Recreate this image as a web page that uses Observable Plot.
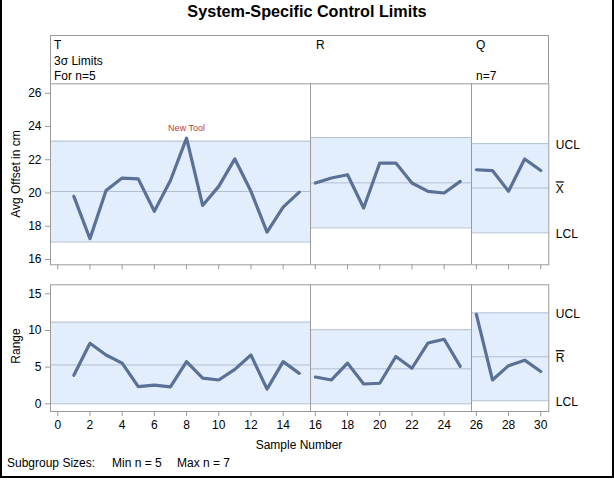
<!DOCTYPE html>
<html><head><meta charset="utf-8">
<script src="https://cdn.jsdelivr.net/npm/d3@7"></script>
<script src="https://cdn.jsdelivr.net/npm/@observablehq/plot@0.6"></script>
<style>
body{margin:0;background:#fff;font-family:"Liberation Sans",Arial,Helvetica,sans-serif;color:#000}
#wrap{position:relative;width:614px;height:480px;overflow:hidden;background:#fff}
.abs{position:absolute;white-space:nowrap;font-size:12px;line-height:14px}
#border{position:absolute;left:0;top:-3px;width:610px;height:479px;border:2px solid #000;border-top:none}
#title{position:absolute;left:0;width:614px;top:2px;text-align:center;font-weight:bold;font-size:16.2px}
#hdr{position:absolute;left:50px;top:35px;width:497px;height:47px;border:1px solid #9a9a9a;border-bottom:none}
.rot{position:absolute;font-size:12px;white-space:nowrap;transform:translate(-50%,-50%) rotate(-90deg)}
svg{position:absolute;left:0}
</style></head>
<body><div id="wrap">
<div id="title">System-Specific Control Limits</div>
<div id="hdr"></div>
<div id="border"></div>
</div>
<script>
// ---- data ----
const sampleNumber = [1,2,3,4,5,6,7,8,9,10,11,12,13,14,15,16,17,18,19,20,21,22,23,24,25,26,27,28,29,30];
const phaseLabel  = ["T","T","T","T","T","T","T","T","T","T","T","T","T","T","T","R","R","R","R","R","R","R","R","R","R","Q","Q","Q","Q","Q"];
const xbarValues  = [19.8,17.25,20.15,20.9,20.85,18.9,20.75,23.3,19.25,20.4,22.05,20.1,17.65,19.15,20.05,
                     20.6,20.9,21.1,19.1,21.8,21.8,20.6,20.1,20.0,20.7,
                     21.4,21.35,20.1,22.05,21.35];
const rangeValues = [3.9,8.25,6.65,5.55,2.35,2.55,2.3,5.75,3.5,3.25,4.7,6.65,2.0,5.75,4.15,
                     3.65,3.25,5.55,2.7,2.8,6.45,4.85,8.3,8.8,5.1,
                     12.2,3.25,5.2,5.95,4.4];
const phases      = ["T","R","Q"];
const phaseStart  = [-0.45,15.7,25.7];
const phaseEnd    = [15.7,25.7,30.5];
const xUCL = [23.12,23.33,22.97];
const xCL  = [20.09,20.61,20.3];
const xLCL = [17.05,17.9,17.6];
const rUCL = [11.14,10.1,12.4];
const rCL  = [5.3,4.77,6.41];
const rLCL = [0,0,0.42];
const xTicks = [0,2,4,6,8,10,12,14,16,18,20,22,24,26,28,30];
const xbarTicks = [16,18,20,22,24,26];
const rangeTicks = [0,5,10,15];
const headerRows = [["T","3σ Limits","For n=5"],["R","",""],["Q","","n=7"]];
const annotation = {sample: 8, text: "New Tool"};

// ---- build ----
const rows = sampleNumber.map((s,i)=>({sample:s, phase:phaseLabel[i], xbar:xbarValues[i], range:rangeValues[i]}));
const lim = phases.map((p,i)=>({phase:p,start:phaseStart[i],end:phaseEnd[i],xu:xUCL[i],xc:xCL[i],xl:xLCL[i],ru:rUCL[i],rc:rCL[i],rl:rLCL[i]}));
const bounds = phaseStart.slice(1);

const FILL="#e3eefc", LIM="#b2bed2", LINE="#5b7096", FRAME="#9a9a9a";
const FONT='"Liberation Sans",Arial,Helvetica,sans-serif';
const xDom=[-0.45,30.5];

function panel(yKey,u,c,l,yDom,yTicks,opts){
  const last = lim[lim.length-1];
  const marks = [
    Plot.rect(lim,{x1:"start",x2:"end",y1:l,y2:u,fill:FILL}),
    Plot.ruleY(lim,{x1:"start",x2:"end",y:u,stroke:LIM}),
    Plot.ruleY(lim,{x1:"start",x2:"end",y:c,stroke:LIM}),
    Plot.ruleY(lim,{x1:"start",x2:"end",y:l,stroke:LIM}),
    Plot.ruleX(bounds,{stroke:FRAME}),
    Plot.line(rows,{x:"sample",y:yKey,z:"phase",stroke:LINE,strokeWidth:3.2,strokeLinejoin:"round",strokeLinecap:"round"}),
    Plot.axisY({ticks:yTicks,tickSize:5,tickPadding:4,label:null,stroke:FRAME,fill:"#000"}),
    Plot.axisX({ticks:xTicks,tickSize:5,tickPadding:4,label:null,stroke:FRAME,fill:"#000",tickFormat:opts.xlabels?(d=>d):(()=>"")}),
    Plot.frame({stroke:FRAME}),
    Plot.text([{v:last[u],t:"UCL"},{v:last[l],t:"LCL"}],
      {y:"v",text:"t",frameAnchor:"right",dx:7,dy:1.5,textAnchor:"start",fill:"#000",fontSize:12}),
    Plot.text([{v:last[c],t:opts.center}],
      {y:"v",text:"t",frameAnchor:"right",dx:7,dy:1.5,textAnchor:"start",fill:"#000",fontSize:12,className:opts.cls})
  ];
  if(opts.extra) marks.push(...opts.extra);
  return Plot.plot({
    width:614,height:opts.height,marginLeft:50,marginRight:65.7,marginTop:opts.mt,marginBottom:opts.mb,
    x:{domain:xDom},y:{domain:yDom},
    style:{fontFamily:FONT,fontSize:"12px",background:"transparent",color:"#000",overflow:"visible"},
    marks
  });
}

const ann = rows.filter(r=>r.sample===annotation.sample);
const topChart = panel("xbar","xu","xc","xl",[15.68,26.57],xbarTicks,{
  height:200,mt:3.3,mb:15.7,xlabels:false,center:"X",cls:"ovl2",
  extra:[Plot.text(ann,{x:"sample",y:"xbar",text:()=>annotation.text,dy:-10,fill:"#c23b3b",fontSize:9})]
});
topChart.style.top="80px";
const botChart = panel("range","ru","rc","rl",[-1.05,16.23],rangeTicks,{
  height:180,mt:4.3,mb:49,xlabels:true,center:"R",cls:"ovl1"
});
botChart.style.top="280px";
const wrap=document.getElementById("wrap");
wrap.appendChild(topChart); wrap.appendChild(botChart);
const st=document.createElement("style");
st.textContent=".ovl2 text{text-decoration:overline double;text-decoration-thickness:1px}.ovl1 text{text-decoration:overline;text-decoration-thickness:1px}";
document.head.appendChild(st);

// header texts
const hx=[54,316,476], hy=[38,54,69];
headerRows.forEach((col,i)=>col.forEach((t,j)=>{ if(!t) return;
  const d=document.createElement("div"); d.className="abs"; d.textContent=t;
  d.style.left=hx[i]+"px"; d.style.top=hy[j]+"px"; wrap.appendChild(d);}));

function addText(t,x,y,cls){const d=document.createElement("div");d.className=cls||"abs";d.textContent=t;d.style.left=x+"px";d.style.top=y+"px";wrap.appendChild(d);return d;}
addText("Avg Offset in cm",16,174,"rot");
addText("Range",16,346,"rot");
const sn=addText("Sample Number",299,438,"abs"); sn.style.transform="translateX(-50%)";
addText("Subgroup Sizes:",7,456);
addText("Min n = 5",112,456);
addText("Max n = 7",177,456);
</script>
</body></html>
